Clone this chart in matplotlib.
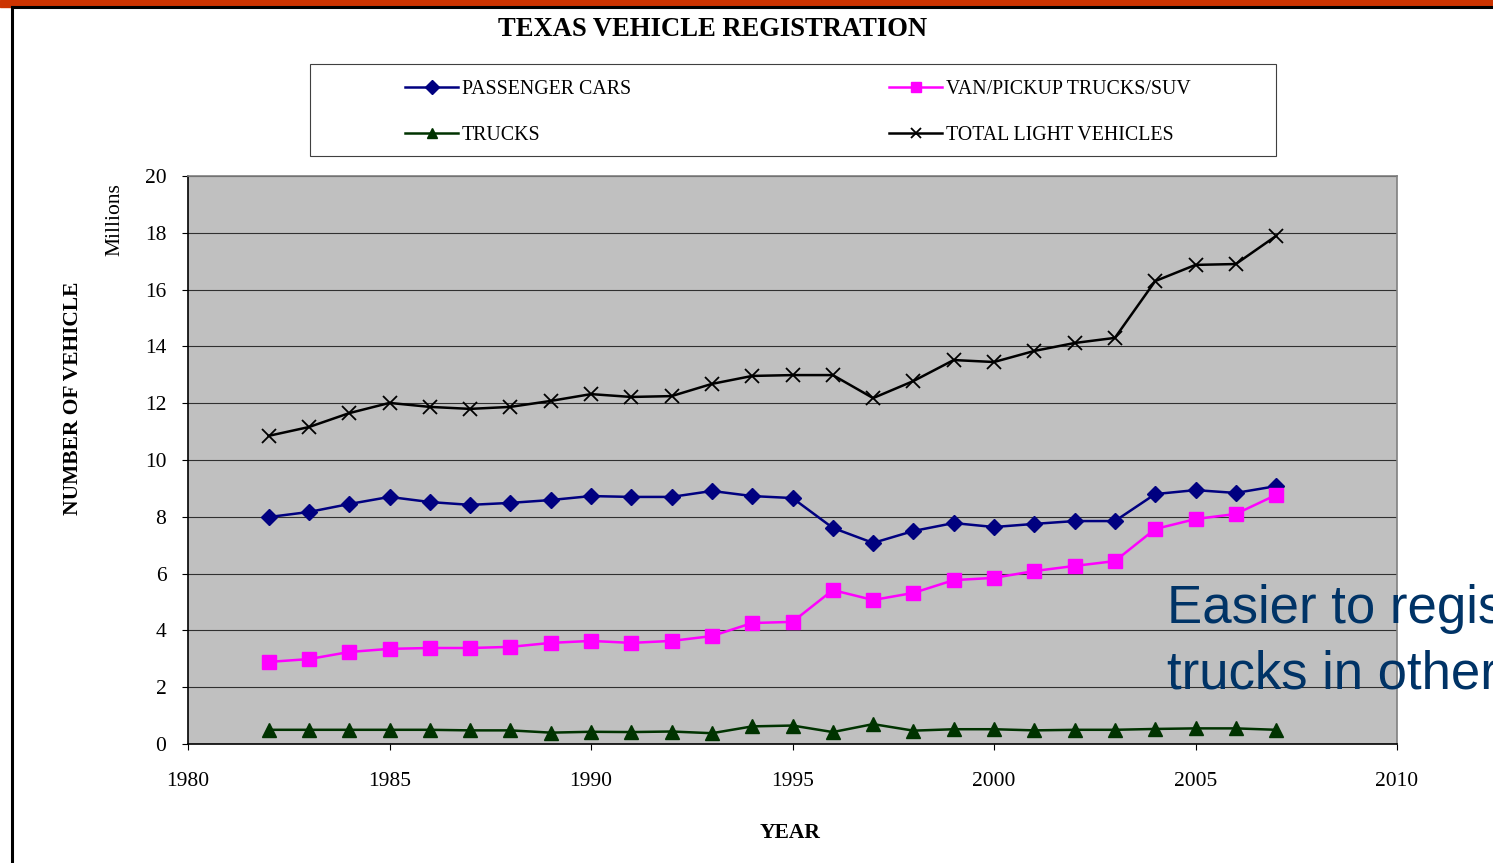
import matplotlib
matplotlib.use('Agg')
import matplotlib.pyplot as plt
from matplotlib.patches import Rectangle
from matplotlib.lines import Line2D

# Data (millions of vehicles)
years = list(range(1982, 2008))
passenger_cars = [7.99, 8.17, 8.45, 8.70, 8.52, 8.42, 8.49, 8.59, 8.73, 8.70, 8.70, 8.91, 8.73,
                  8.66, 7.61, 7.08, 7.50, 7.78, 7.64, 7.75, 7.85, 7.85, 8.80, 8.94, 8.84, 9.08]
van_pickup_suv = [2.89, 2.99, 3.24, 3.35, 3.38, 3.38, 3.42, 3.56, 3.63, 3.56, 3.63, 3.80, 4.26,
                  4.30, 5.42, 5.07, 5.32, 5.77, 5.85, 6.09, 6.27, 6.44, 7.57, 7.92, 8.10, 8.77]
trucks = [0.50, 0.50, 0.50, 0.50, 0.50, 0.48, 0.48, 0.40, 0.43, 0.42, 0.44, 0.38, 0.62,
          0.65, 0.42, 0.70, 0.47, 0.52, 0.52, 0.48, 0.50, 0.50, 0.53, 0.55, 0.55, 0.50]
total_light = [10.85, 11.16, 11.65, 12.01, 11.87, 11.80, 11.87, 12.08, 12.32, 12.22, 12.25, 12.68, 12.96,
               12.99, 12.99, 12.18, 12.78, 13.52, 13.45, 13.84, 14.12, 14.30, 16.30, 16.87, 16.90, 17.89]
labels = ['PASSENGER CARS', 'VAN/PICKUP TRUCKS/SUV', 'TRUCKS', 'TOTAL LIGHT VEHICLES']
x_ticks = [1980, 1985, 1990, 1995, 2000, 2005, 2010]
y_ticks = [0, 2, 4, 6, 8, 10, 12, 14, 16, 18, 20]

W, H = 1493, 863
fig = plt.figure(figsize=(W / 100, H / 100), dpi=100)
serif = 'Liberation Serif'

#Slide frame:
fig.add_artist(Rectangle((0, 1 - 7 / H), 1, 7 / H, color='#CC3300', transform=fig.transFigure))
fig.add_artist(Line2D([12 / W, 12 / W], [0, 1 - 7 / H], color='black', lw=2.2, transform=fig.transFigure))
fig.add_artist(Line2D([12 / W, 1], [1 - 7.5 / H, 1 - 7.5 / H], color='black', lw=2.2, transform=fig.transFigure))

ax = fig.add_axes([188 / W, (H - 744) / H, 1209 / W, 568 / H])
ax.set_facecolor('#C0C0C0')

#Plot the data:
l1, = ax.plot(years, passenger_cars, color='#000080', lw=1.8, marker='D', ms=8)
l2, = ax.plot(years, van_pickup_suv, color='#FF00FF', lw=1.8, marker='s', ms=9.5)
l3, = ax.plot(years, trucks, color='#003300', lw=1.8, marker='^', ms=9.5)
l4, = ax.plot(years, total_light, color='black', lw=1.8, marker='x', ms=10, mew=1.3)

#Axes and grid:
ax.set_xlim(1980, 2010)
ax.set_ylim(0, 20)
ax.set_xticks(x_ticks)
ax.set_yticks(y_ticks)
ax.yaxis.grid(True, color='#303030', lw=0.8)
ax.set_axisbelow(True)
ax.tick_params(direction='out', length=4.5, width=0.8, labelsize=15.5)
ax.tick_params(axis='x', pad=16)
ax.tick_params(axis='y', pad=11)
for lab in ax.get_xticklabels() + ax.get_yticklabels():
    lab.set_fontfamily(serif)
for s in ['left', 'bottom']:
    ax.spines[s].set_color('black')
    ax.spines[s].set_linewidth(1.2)
for s in ['right', 'top']:
    ax.spines[s].set_color('#808080')
    ax.spines[s].set_linewidth(1.2)

#Set descriptions:
fig.text(713 / W, 1 - 30 / H, 'TEXAS VEHICLE REGISTRATION', ha='center', va='center',
         fontsize=19.2, fontweight='bold', family=serif)
fig.text(73 / W, 1 - 398 / H, 'NUMBER OF VEHICLE', ha='center', va='center', rotation=90,
         fontsize=15.5, fontweight='bold', family=serif)
fig.text(115 / W, 1 - 220 / H, 'Millions', ha='center', va='center', rotation=90,
         fontsize=15.5, family=serif)
fig.text(790 / W, 1 - 833 / H, 'YEAR', ha='center', va='center',
         fontsize=15.5, fontweight='bold', family=serif)

#Legend box:
fig.add_artist(Rectangle((310 / W, 1 - 156 / H), 966 / W, 92 / H, facecolor='white',
                         edgecolor='#404040', lw=0.8, transform=fig.transFigure))
leg = fig.legend([l1, l3, l2, l4], [labels[0], labels[2], labels[1], labels[3]], ncol=2,
                 loc='upper left', bbox_to_anchor=(405 / W, 1 - 80 / H), frameon=False,
                 prop={'family': serif, 'size': 14.3}, handlelength=2.67, handletextpad=0.2,
                 columnspacing=13.0, labelspacing=1.37, borderpad=0, borderaxespad=0)
for h in leg.legend_handles:
    h.set_markersize(7)

#Slide annotation:
fig.text(1167 / W, 1 - 688 / H, 'Easier to register\ntrucks in other states', ha='left', va='baseline',
         fontsize=38, color='#003366', family='Liberation Sans', linespacing=1.38)

fig.savefig('out.png', dpi=100)
